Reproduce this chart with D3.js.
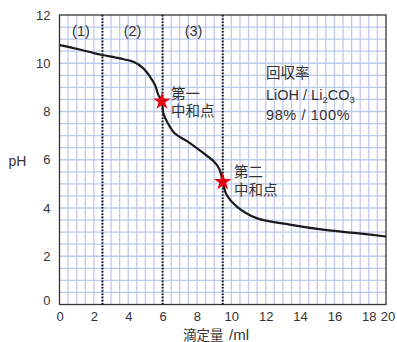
<!DOCTYPE html>
<html>
<head>
<meta charset="utf-8">
<script src="https://cdn.jsdelivr.net/npm/d3@7"></script>
<style>
  body { margin: 0; background: #fff; }
  svg { display: block; font-family: "Liberation Sans", Arial, "Noto Sans CJK JP", sans-serif; }
  .tick text { font-size: 13px; fill: #333; }
  .lbl { font-size: 14.5px; fill: #333; }
</style>
</head>
<body>
<div id="chart"></div>
<script>
// titration curve (ml, pH)
var curve = [
  [0, 10.75], [1, 10.6], [2, 10.42], [2.5, 10.34], [3.5, 10.2], [4.3, 10.06],
  [4.88, 9.79], [5.27, 9.44], [5.56, 9.1], [5.75, 8.69], [5.96, 8.42],
  [6.04, 7.93], [6.3, 7.52], [6.7, 7.1], [7.4, 6.78], [8.36, 6.28],
  [9.0, 5.92], [9.3, 5.62], [9.5, 5.08], [9.72, 4.55],
  [10.3, 4.07], [11.47, 3.58], [13.4, 3.31], [15.34, 3.1], [17.28, 2.96], [19, 2.82]
];
var eqPoints = [[5.96, 8.42], [9.5, 5.08]];
var dividers = [2.5, 6, 9.5];
var regionLabels = [["(1)", 1.25], ["(2)", 4.25], ["(3)", 7.8]];
var xTickValues = [0, 2, 4, 6, 8, 10, 12, 14, 16, 18, 19];
var xTickLabels = ["0", "2", "4", "6", "8", "10", "12", "14", "16", "18", "20"];
var yTickValues = [0, 2, 4, 6, 8, 10, 12];

var W = 397, H = 342;
var x = d3.scaleLinear().domain([0, 19]).range([59.5, 386]);
var y = d3.scaleLinear().domain([0, 12]).range([304.5, 15]);

var svg = d3.select("#chart").append("svg")
    .attr("width", W)
    .attr("height", H);

// grid, every 0.5
var grid = svg.append("g").attr("class", "grid");
grid.selectAll(".gx")
    .data(d3.range(0.5, 19, 0.5))
    .enter().append("line")
    .attr("x1", function(d) { return x(d); })
    .attr("x2", function(d) { return x(d); })
    .attr("y1", y(0)).attr("y2", y(12))
    .attr("stroke", "#bfc9ec").attr("stroke-width", 1.3);
grid.selectAll(".gy")
    .data(d3.range(0.5, 12, 0.5))
    .enter().append("line")
    .attr("y1", function(d) { return y(d); })
    .attr("y2", function(d) { return y(d); })
    .attr("x1", x(0)).attr("x2", x(19))
    .attr("stroke", "#bfc9ec").attr("stroke-width", 1.3);

// frame
svg.append("rect")
    .attr("x", x(0)).attr("y", y(12))
    .attr("width", x(19) - x(0)).attr("height", y(0) - y(12))
    .attr("fill", "none").attr("stroke", "#333").attr("stroke-width", 1.3);

// axes
var xAxis = d3.axisBottom(x)
    .tickValues(xTickValues)
    .tickFormat(function(d, i) { return xTickLabels[i]; })
    .tickSize(0).tickPadding(7);
svg.append("g")
    .attr("transform", "translate(0," + y(0) + ")")
    .call(xAxis)
    .call(function(g) { g.select(".domain").remove(); })
    .selectAll("text").attr("font-family", null).attr("font-size", null)
    .attr("dx", function(d) { return d === 19 ? 1.5 : 0; });

var yAxis = d3.axisLeft(y)
    .tickValues(yTickValues)
    .tickFormat(d3.format("d"))
    .tickSize(0).tickPadding(9);
svg.append("g")
    .attr("transform", "translate(" + x(0) + ",0)")
    .call(yAxis)
    .call(function(g) { g.select(".domain").remove(); })
    .selectAll("text").attr("font-family", null).attr("font-size", null)
    .attr("y", function(d) { return d === 0 ? -4 : 0; });

// dotted dividers
svg.selectAll(".divider")
    .data(dividers)
    .enter().append("line")
    .attr("class", "divider")
    .attr("x1", function(d) { return x(d); })
    .attr("x2", function(d) { return x(d); })
    .attr("y1", y(12)).attr("y2", y(0))
    .attr("stroke", "#111").attr("stroke-width", 2)
    .attr("stroke-dasharray", "1.6,1.6");

svg.selectAll(".region")
    .data(regionLabels)
    .enter().append("text")
    .attr("class", "lbl")
    .attr("x", function(d) { return x(d[1]); })
    .attr("y", y(11.35))
    .attr("dy", "0.35em")
    .attr("text-anchor", "middle")
    .text(function(d) { return d[0]; });

// curve
var line = d3.line()
    .x(function(d) { return x(d[0]); })
    .y(function(d) { return y(d[1]); })
    .curve(d3.curveCatmullRom.alpha(0.5));
svg.append("path")
    .datum(curve)
    .attr("d", line)
    .attr("fill", "none")
    .attr("stroke", "#1a1a1a")
    .attr("stroke-width", 2.2);

// equivalence points
svg.selectAll(".star")
    .data(eqPoints)
    .enter().append("path")
    .attr("d", d3.symbol().type(d3.symbolStar).size(95))
    .attr("transform", function(d) { return "translate(" + x(d[0]) + "," + y(d[1]) + ")"; })
    .attr("fill", "#e60012");

// annotations
function note(lines, px, py, gap) {
  var t = svg.append("text").attr("class", "lbl")
      .attr("x", px).attr("y", py);
  lines.forEach(function(s, i) {
    t.append("tspan").attr("x", px).attr("dy", i === 0 ? "0.35em" : gap).text(s);
  });
  return t;
}
note(["第一", "中和点"], 171, 94, 17);
note(["第二", "中和点"], 234, 172, 18);

svg.append("text").attr("class", "lbl").attr("x", 266).attr("y", 73).attr("dy", "0.35em")
    .text("回収率");
var l2 = svg.append("text").attr("class", "lbl").attr("x", 266).attr("y", 95).attr("dy", "0.35em");
l2.append("tspan").text("LiOH / Li");
l2.append("tspan").attr("font-size", "9.5px").attr("dy", "3").text("2");
l2.append("tspan").attr("dy", "-3").text("CO");
l2.append("tspan").attr("font-size", "9.5px").attr("dy", "3").text("3");
svg.append("text").attr("class", "lbl").attr("x", 266).attr("y", 115).attr("dy", "0.35em")
    .attr("letter-spacing", "0.6px")
    .text("98% / 100%");

// axis titles
svg.append("text").attr("class", "lbl")
    .attr("x", 17.5).attr("y", 161).attr("dy", "0.35em")
    .attr("text-anchor", "middle").style("font-size", "14px").text("pH");
var xt = svg.append("text").attr("class", "lbl")
    .attr("x", 183).attr("y", 335).attr("dy", "0.35em")
    .style("font-size", "13.5px");
xt.append("tspan").text("滴定量");
xt.append("tspan").attr("x", 229).style("font-size", "15px").text("/ml");
</script>
</body>
</html>
